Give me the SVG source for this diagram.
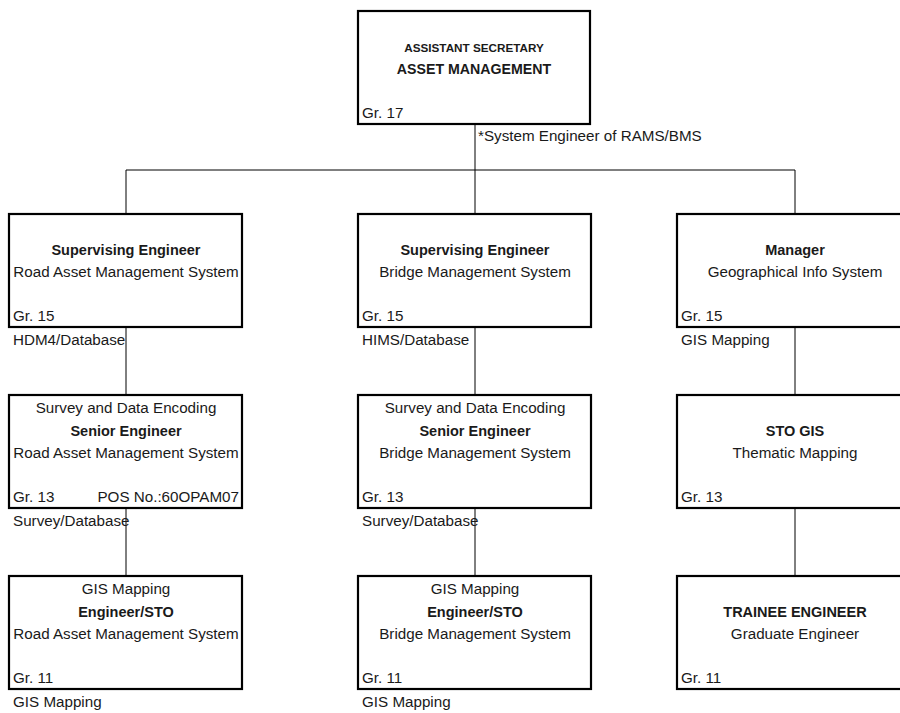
<svg xmlns="http://www.w3.org/2000/svg" width="900" height="713" viewBox="0 0 900 713">
<style>
.box{fill:#fff;stroke:#000;stroke-width:2.2}
.ln{stroke:#000;stroke-width:1;fill:none}
text{font-family:"Liberation Sans",Arial,sans-serif;font-size:15.2px;fill:#1a1a1a}
.c{text-anchor:middle}
.b{font-weight:bold;font-size:14.5px}
.r{text-anchor:end}
.t1{font-size:11.7px}
.t2{font-size:14.2px}
</style>
<rect width="900" height="713" fill="#fff"/>
<g id="connectors">
<line class="ln" x1="475" y1="124" x2="475" y2="170"/>
<line class="ln" x1="126" y1="170" x2="795" y2="170"/>
<line class="ln" x1="126" y1="170" x2="126" y2="214"/>
<line class="ln" x1="475" y1="170" x2="475" y2="214"/>
<line class="ln" x1="795" y1="170" x2="795" y2="214"/>
<line class="ln" x1="126" y1="327" x2="126" y2="395"/>
<line class="ln" x1="475" y1="327" x2="475" y2="395"/>
<line class="ln" x1="795" y1="327" x2="795" y2="395"/>
<line class="ln" x1="126" y1="508" x2="126" y2="576"/>
<line class="ln" x1="475" y1="508" x2="475" y2="576"/>
<line class="ln" x1="795" y1="508" x2="795" y2="576"/>
</g>
<g id="top">
<rect class="box" x="358" y="11" width="232" height="113"/>
<text class="c b t1" x="474" y="52">ASSISTANT SECRETARY</text>
<text class="c b t2" x="474" y="74">ASSET MANAGEMENT</text>
<text x="362" y="118">Gr. 17</text>
<text x="478" y="141">*System Engineer of RAMS/BMS</text>
</g>
<g id="se-rams">
<rect class="box" x="9" y="214" width="233" height="113"/>
<text class="c b" x="126" y="255">Supervising Engineer</text>
<text class="c" x="126" y="277">Road Asset Management System</text>
<text x="13" y="321">Gr. 15</text>
<text x="13" y="345">HDM4/Database</text>
</g>
<g id="se-bms">
<rect class="box" x="358" y="214" width="233" height="113"/>
<text class="c b" x="475" y="255">Supervising Engineer</text>
<text class="c" x="475" y="277">Bridge Management System</text>
<text x="362" y="321">Gr. 15</text>
<text x="362" y="345">HIMS/Database</text>
</g>
<g id="mgr-gis">
<rect class="box" x="677" y="214" width="240" height="113"/>
<text class="c b" x="795" y="255">Manager</text>
<text class="c" x="795" y="277">Geographical Info System</text>
<text x="681" y="321">Gr. 15</text>
<text x="681" y="345">GIS Mapping</text>
</g>
<g id="sr-rams">
<rect class="box" x="9" y="395" width="233" height="113"/>
<text class="c" x="126" y="413">Survey and Data Encoding</text>
<text class="c b" x="126" y="436">Senior Engineer</text>
<text class="c" x="126" y="458">Road Asset Management System</text>
<text x="13" y="502">Gr. 13</text>
<text class="r" x="239" y="502">POS No.:60OPAM07</text>
<text x="13" y="526">Survey/Database</text>
</g>
<g id="sr-bms">
<rect class="box" x="358" y="395" width="233" height="113"/>
<text class="c" x="475" y="413">Survey and Data Encoding</text>
<text class="c b" x="475" y="436">Senior Engineer</text>
<text class="c" x="475" y="458">Bridge Management System</text>
<text x="362" y="502">Gr. 13</text>
<text x="362" y="526">Survey/Database</text>
</g>
<g id="sto-gis">
<rect class="box" x="677" y="395" width="240" height="113"/>
<text class="c b" x="795" y="436">STO GIS</text>
<text class="c" x="795" y="458">Thematic Mapping</text>
<text x="681" y="502">Gr. 13</text>
</g>
<g id="eng-rams">
<rect class="box" x="9" y="576" width="233" height="113"/>
<text class="c" x="126" y="594">GIS Mapping</text>
<text class="c b" x="126" y="617">Engineer/STO</text>
<text class="c" x="126" y="639">Road Asset Management System</text>
<text x="13" y="683">Gr. 11</text>
<text x="13" y="707">GIS Mapping</text>
</g>
<g id="eng-bms">
<rect class="box" x="358" y="576" width="233" height="113"/>
<text class="c" x="475" y="594">GIS Mapping</text>
<text class="c b" x="475" y="617">Engineer/STO</text>
<text class="c" x="475" y="639">Bridge Management System</text>
<text x="362" y="683">Gr. 11</text>
<text x="362" y="707">GIS Mapping</text>
</g>
<g id="trainee">
<rect class="box" x="677" y="576" width="240" height="113"/>
<text class="c b" x="795" y="617">TRAINEE ENGINEER</text>
<text class="c" x="795" y="639">Graduate Engineer</text>
<text x="681" y="683">Gr. 11</text>
</g>
</svg>
